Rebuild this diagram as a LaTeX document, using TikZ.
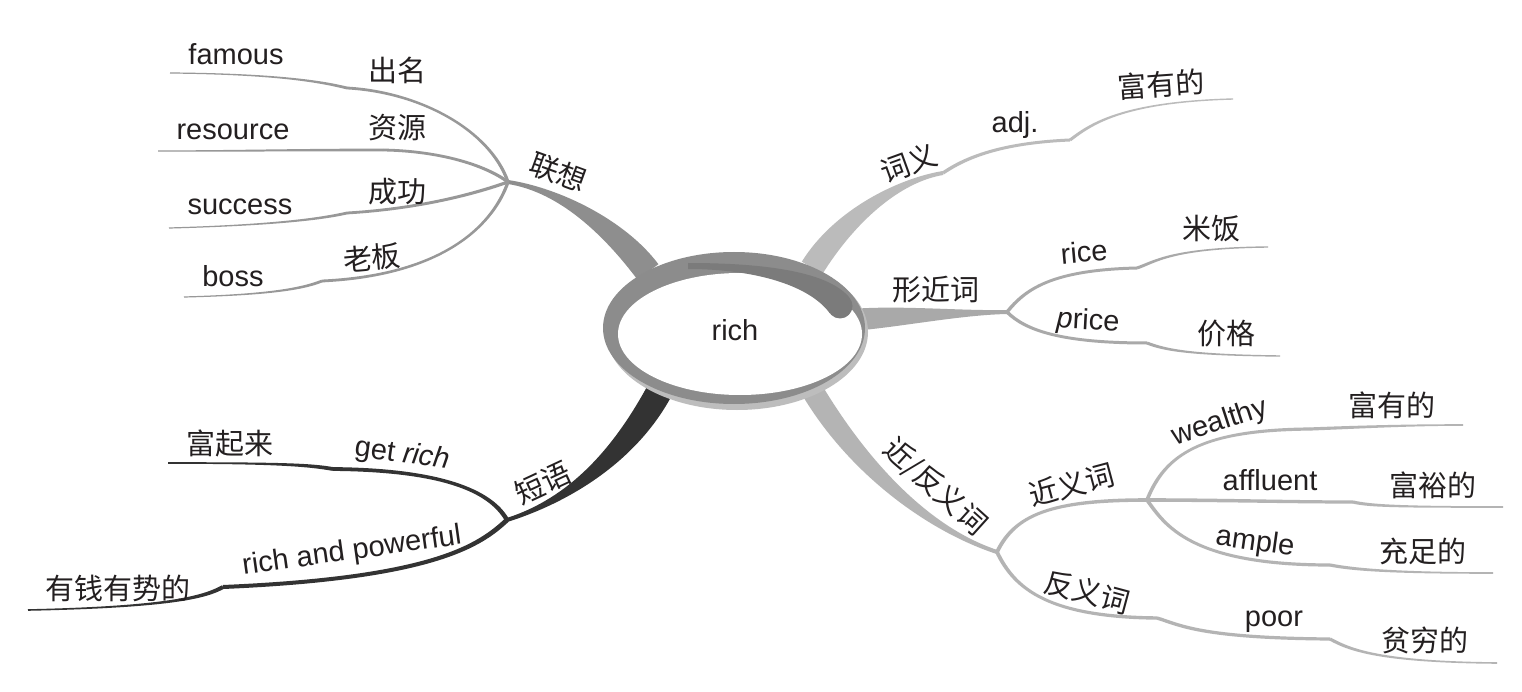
\documentclass[tikz,border=0pt]{standalone}
\usepackage{fontspec}
\setmainfont{Liberation Sans}[Ligatures=CommonOff]
\newfontfamily\cjk{Noto Sans CJK SC}
\usetikzlibrary{calc}
\definecolor{ink}{HTML}{231F20}
\definecolor{gA}{HTML}{989898}
\definecolor{gAt}{HTML}{8E8E8E}
\definecolor{gB}{HTML}{BBBBBB}
\definecolor{gC}{HTML}{A9A9A9}
\definecolor{gD}{HTML}{B4B4B4}
\definecolor{gE}{HTML}{333333}
\definecolor{ringc}{HTML}{8C8C8C}
\definecolor{hookc}{HTML}{7B7B7B}
\definecolor{bevelc}{HTML}{BDBDBD}
% tapered curve: style, P0, control1, control2, P3, half width at P0, half width at P3
\newcommand{\tbranch}[7]{%
  \fill[#1] ($(#2)!#6!90:(#3)$)
    .. controls ($(#3)!#6!-90:(#2)$) and ($(#4)!#7!90:(#5)$)
    .. ($(#5)!#7!-90:(#4)$)
    -- ($(#5)!#7!90:(#4)$)
    .. controls ($(#4)!#7!-90:(#5)$) and ($(#3)!#6!90:(#2)$)
    .. ($(#2)!#6!-90:(#3)$) -- cycle;}
\tikzset{
  lat/.style={font=\fontsize{29}{34}\selectfont, text=ink, inner sep=0pt},
  zh/.style={font=\cjk\fontsize{29}{34}\selectfont, text=ink, inner sep=0pt},
}
\begin{document}
\begin{tikzpicture}[x=1pt,y=-1pt]
\useasboundingbox[fill=white] (0,0) rectangle (1522,692);
% junctions and notches
\coordinate (J1) at (508,182);
\coordinate (N1) at (347,88);  \coordinate (E1) at (170,73);
\coordinate (N2) at (383,150); \coordinate (E2) at (158,151);
\coordinate (N3) at (347,213); \coordinate (E3) at (169,228);
\coordinate (N4) at (322,281); \coordinate (E4) at (184,297);
\coordinate (T1) at (648,272);
\coordinate (J3) at (943,173); \coordinate (N5) at (1070,140); \coordinate (E5) at (1233,99);
\coordinate (T3) at (812,268);
\coordinate (J4) at (1007,312); \coordinate (T4) at (852,320);
\coordinate (N6) at (1137,268); \coordinate (E6) at (1268,247);
\coordinate (N7) at (1147,343); \coordinate (E7) at (1280,356);
\coordinate (J6) at (997,552); \coordinate (T6) at (812,390);
\coordinate (J5) at (1147,500);
\coordinate (N8) at (1310,429); \coordinate (E8) at (1463,425);
\coordinate (N9) at (1353,502); \coordinate (E9) at (1503,507);
\coordinate (N10) at (1330,565); \coordinate (E10) at (1493,573);
\coordinate (N11) at (1157,618); \coordinate (N12) at (1330,639); \coordinate (E12) at (1497,663);
\coordinate (J2) at (507,520); \coordinate (T2) at (660,390);
\coordinate (N13) at (333,469); \coordinate (E13) at (168,463);
\coordinate (N14) at (223,587); \coordinate (E14) at (28,610);
\coordinate (H0) at (688,266); \coordinate (H1) at (840,306);
% thick main branches
\tbranch{gAt}{J1}{560,190}{615,228}{T1}{2pt}{13pt}
\tbranch{gB}{J3}{900,180}{845,215}{T3}{2pt}{12pt}
\tbranch{gC}{J4}{960,313}{900,316}{T4}{2pt}{11pt}
\tbranch{gD}{J6}{930,530}{860,470}{T6}{2pt}{11pt}
\tbranch{gE}{J2}{570,500}{625,455}{T2}{2pt}{13pt}
% lianxiang group
\tbranch{gA}{J1}{490,130}{420,92}{N1}{1.6pt}{1.4pt}
\tbranch{gA}{N1}{330,84}{290,74}{E1}{1.4pt}{0.6pt}
\tbranch{gA}{J1}{485,165}{440,151}{N2}{1.6pt}{1.4pt}
\tbranch{gA}{N2}{300,150}{230,151}{E2}{1.4pt}{0.6pt}
\tbranch{gA}{J1}{485,190}{430,208}{N3}{1.6pt}{1.4pt}
\tbranch{gA}{N3}{325,218}{280,225}{E3}{1.4pt}{0.6pt}
\tbranch{gA}{J1}{495,220}{450,275}{N4}{1.6pt}{1.4pt}
\tbranch{gA}{N4}{300,290}{260,295}{E4}{1.4pt}{0.6pt}
% ciyi group
\tbranch{gB}{J3}{965,158}{1000,143}{N5}{1.7pt}{1.5pt}
\tbranch{gB}{N5}{1090,125}{1120,102}{E5}{1.5pt}{0.7pt}
% xingjin group
\tbranch{gC}{J4}{1025,290}{1050,270}{N6}{1.7pt}{1.5pt}
\tbranch{gC}{N6}{1155,262}{1170,248}{E6}{1.5pt}{0.7pt}
\tbranch{gC}{J4}{1025,330}{1060,343}{N7}{1.7pt}{1.5pt}
\tbranch{gC}{N7}{1165,350}{1190,355}{E7}{1.5pt}{0.7pt}
% jinfan group
\tbranch{gD}{J6}{1015,515}{1050,500}{J5}{1.9pt}{1.8pt}
\tbranch{gD}{J5}{1165,455}{1200,430}{N8}{1.8pt}{1.6pt}
\tbranch{gD}{N8}{1360,427}{1410,425}{E8}{1.6pt}{0.8pt}
\tbranch{gD}{J5}{1220,500}{1290,502}{N9}{1.8pt}{1.6pt}
\tbranch{gD}{N9}{1370,506}{1400,507}{E9}{1.6pt}{0.8pt}
\tbranch{gD}{J5}{1165,525}{1190,565}{N10}{1.8pt}{1.6pt}
\tbranch{gD}{N10}{1355,570}{1400,573}{E10}{1.6pt}{0.8pt}
\tbranch{gD}{J6}{1015,590}{1050,617}{N11}{1.9pt}{1.7pt}
\tbranch{gD}{N11}{1180,625}{1200,638}{N12}{1.7pt}{1.6pt}
\tbranch{gD}{N12}{1350,650}{1380,662}{E12}{1.6pt}{0.8pt}
% duanyu group
\tbranch{gE}{J2}{490,490}{440,470}{N13}{2.2pt}{1.9pt}
\tbranch{gE}{N13}{310,465}{280,463}{E13}{1.9pt}{0.8pt}
\tbranch{gE}{J2}{480,545}{435,578}{N14}{2.4pt}{2pt}
\tbranch{gE}{N14}{205,597}{170,607}{E14}{2pt}{0.8pt}
% central ring
\fill[bevelc] (737,332) ellipse [x radius=131, y radius=78];
\fill[ringc] (734,328) ellipse [x radius=131, y radius=76];
\fill[white] (740,334) ellipse [x radius=122, y radius=61];
\tbranch{hookc}{H0}{750,266}{818,276}{H1}{3pt}{12.5pt}
\fill[hookc] (H1) circle [radius=12.5];
% texts
\node[lat] (rich) at (735,330) {rich};
\node[lat] (famous) at (236,54) {famous};
\node[zh] (chuming) at (397,70) {出名};
\node[lat] (resource) at (233,132) {resource};
\node[zh] (ziyuan) at (397,128) {资源};
\node[lat] (success) at (240,207) {success};
\node[zh] (chenggong) at (397,192) {成功};
\node[lat] (boss) at (233,276) {boss};
\node[zh,rotate=5] (laoban) at (372,258) {老板};
\node[zh,rotate=-20] (lianxiang) at (558,172) {联想};
\node[zh,rotate=20] (ciyi) at (909,163) {词义};
\node[lat] (adj) at (1015,125) {adj.};
\node[zh,rotate=4] (fuyou1) at (1161,84) {富有的};
\node[zh] (xingjin) at (936,290) {形近词};
\node[lat,rotate=5] (rice) at (1084,252) {rice};
\node[zh] (mifan) at (1211,229) {米饭};
\node[lat,rotate=-3] (price) at (1088,322) {\textit{p}rice};
\node[zh] (jiage) at (1226,334) {价格};
\node[zh,rotate=-42] (jinfan) at (935,487) {近/反义词};
\node[zh,rotate=15] (jinyi) at (1072,485) {近义词};
\node[lat,rotate=18] (wealthy) at (1220,423) {wealthy};
\node[zh] (fuyou2) at (1392,405) {富有的};
\node[lat] (affluent) at (1270,480) {affluent};
\node[zh] (fuyu) at (1433,485) {富裕的};
\node[lat,rotate=-8] (ample) at (1255,543) {ample};
\node[zh] (chongzu) at (1423,551) {充足的};
\node[zh,rotate=-15] (fanyi) at (1087,592) {反义词};
\node[lat] (poor) at (1274,622) {poor};
\node[zh] (pinqiong) at (1425,640) {贫穷的};
\node[zh,rotate=25] (duanyu) at (543,483) {短语};
\node[lat,rotate=-8] (getrich) at (402,455) {get \textit{rich}};
\node[zh] (fuqilai) at (230,443) {富起来};
\node[lat,rotate=8] (richpow) at (352,552) {rich and powerful};
\node[zh] (youqian) at (118,588) {有钱有势的};
\end{tikzpicture}
\end{document}
